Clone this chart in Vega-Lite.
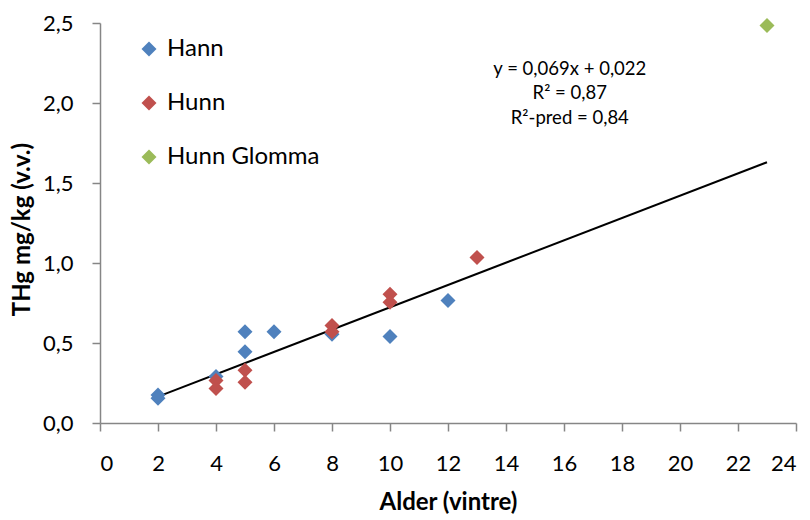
{
  "$schema": "https://vega.github.io/schema/vega-lite/v6.json",
  "autosize": {"type": "none"},
  "width": 696,
  "height": 400,
  "padding": {"left": 100, "top": 23, "right": 14, "bottom": 97},
  "background": "white",
  "config": {
    "view": {"stroke": null},
    "font": "Lato",
    "axis": {"grid": false, "domainColor": "#868686", "tickColor": "#868686", "labelColor": "#000000", "titleColor": "#000000", "labelFont": "Lato", "titleFont": "Lato", "labelFontSize": 22, "titleFontSize": 24, "titleFontWeight": "bold", "tickSize": 8, "domainWidth": 1.5, "tickWidth": 1.5}
  },
  "datasets": {
    "points": [
      {"alder": 2, "thg": 0.175, "gruppe": "Hann"},
      {"alder": 2, "thg": 0.155, "gruppe": "Hann"},
      {"alder": 4, "thg": 0.29, "gruppe": "Hann"},
      {"alder": 5, "thg": 0.57, "gruppe": "Hann"},
      {"alder": 5, "thg": 0.445, "gruppe": "Hann"},
      {"alder": 6, "thg": 0.57, "gruppe": "Hann"},
      {"alder": 8, "thg": 0.555, "gruppe": "Hann"},
      {"alder": 10, "thg": 0.54, "gruppe": "Hann"},
      {"alder": 12, "thg": 0.765, "gruppe": "Hann"},
      {"alder": 4, "thg": 0.265, "gruppe": "Hunn"},
      {"alder": 4, "thg": 0.215, "gruppe": "Hunn"},
      {"alder": 5, "thg": 0.33, "gruppe": "Hunn"},
      {"alder": 5, "thg": 0.255, "gruppe": "Hunn"},
      {"alder": 8, "thg": 0.61, "gruppe": "Hunn"},
      {"alder": 8, "thg": 0.57, "gruppe": "Hunn"},
      {"alder": 10, "thg": 0.805, "gruppe": "Hunn"},
      {"alder": 10, "thg": 0.755, "gruppe": "Hunn"},
      {"alder": 13, "thg": 1.035, "gruppe": "Hunn"},
      {"alder": 23, "thg": 2.485, "gruppe": "Hunn Glomma"}
    ],
    "trend": [
      {"alder": 2, "thg": 0.165},
      {"alder": 23, "thg": 1.63}
    ],
    "notes": [
      {"alder": 16.2, "thg": 2.215, "tekst": "y = 0,069x + 0,022"},
      {"alder": 16.2, "thg": 2.06, "tekst": "R² = 0,87"},
      {"alder": 16.2, "thg": 1.905, "tekst": "R²-pred = 0,84"}
    ]
  },
  "layer": [
    {
      "data": {"name": "trend"},
      "mark": {"type": "line", "color": "#000000", "strokeWidth": 2},
      "encoding": {
        "x": {"field": "alder", "type": "quantitative"},
        "y": {"field": "thg", "type": "quantitative"}
      }
    },
    {
      "data": {"name": "points"},
      "mark": {"type": "point", "shape": "diamond", "filled": true, "opacity": 1, "size": 225},
      "encoding": {
        "x": {
          "field": "alder", "type": "quantitative",
          "scale": {"domain": [0, 24], "nice": false, "zero": false},
          "axis": {"title": "Alder (vintre)", "values": [0,2,4,6,8,10,12,14,16,18,20,22,24], "labelPadding": 22, "titlePadding": 16}
        },
        "y": {
          "field": "thg", "type": "quantitative",
          "scale": {"domain": [0, 2.5], "nice": false},
          "axis": {"title": "THg mg/kg (v.v.)", "values": [0,0.25,0.5,0.75,1,1.25,1.5,1.75,2,2.25,2.5], "labelExpr": "(round(datum.value*100) % 50 == 0) ? replace(format(datum.value, '.1f'), '.', ',') : ''", "labelPadding": 19, "titlePadding": 8, "titleY": 206}
        },
        "color": {
          "field": "gruppe", "type": "nominal",
          "scale": {"domain": ["Hann", "Hunn", "Hunn Glomma"], "range": ["#4F81BD", "#C0504D", "#9BBB59"]},
          "legend": {"title": null, "orient": "none", "legendX": 37, "legendY": 14, "symbolType": "diamond", "symbolSize": 225, "labelFontSize": 24, "labelFont": "Lato", "labelColor": "#000000", "rowPadding": 30, "symbolOffset": 0, "labelOffset": 6, "padding": 0}
        }
      }
    },
    {
      "data": {"name": "notes"},
      "mark": {"type": "text", "fontSize": 18.5, "font": "Lato", "color": "#000000", "align": "center", "baseline": "middle"},
      "encoding": {
        "x": {"field": "alder", "type": "quantitative"},
        "y": {"field": "thg", "type": "quantitative"},
        "text": {"field": "tekst"}
      }
    }
  ]
}
